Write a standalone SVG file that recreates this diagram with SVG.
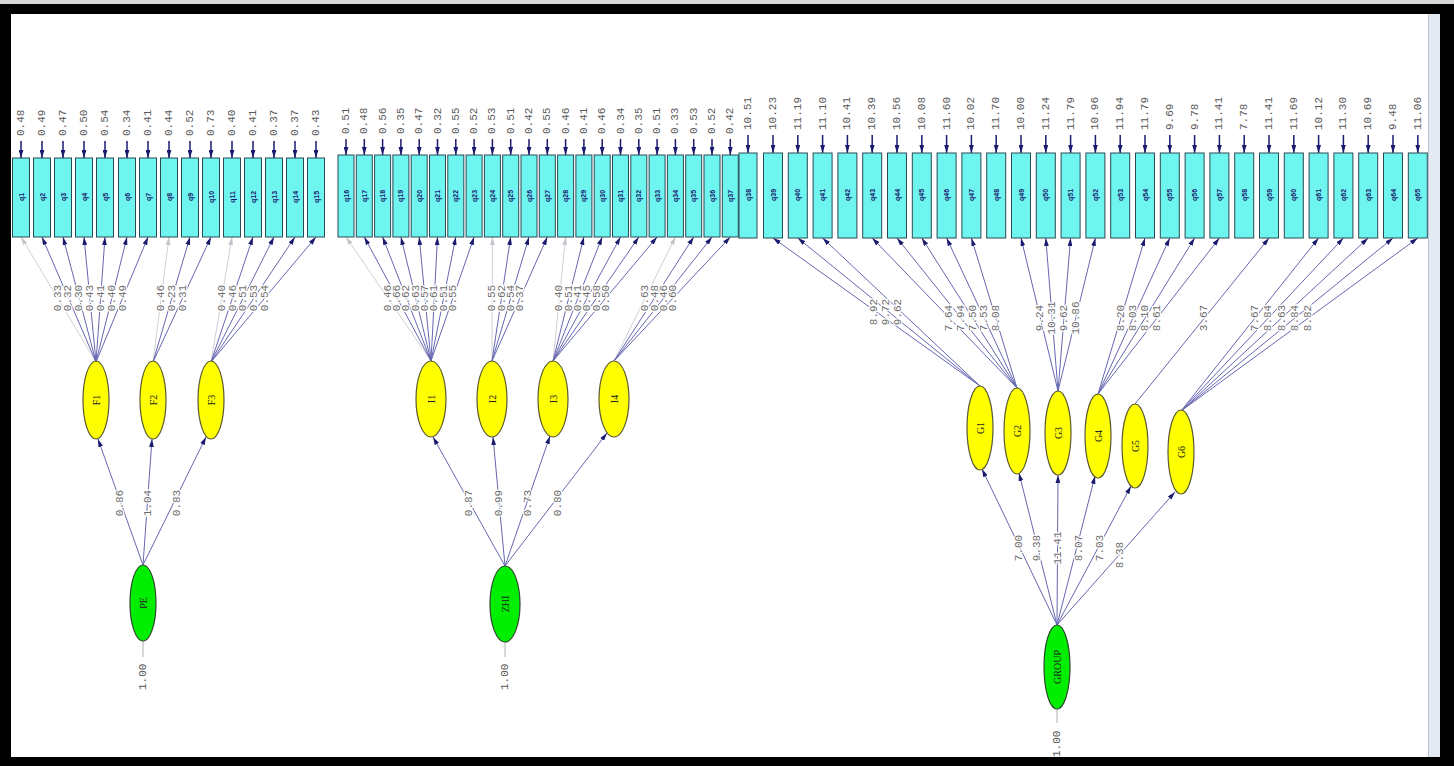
<svg xmlns="http://www.w3.org/2000/svg" width="1454" height="766" viewBox="0 0 1454 766">
<style>
.box{fill:#6ff5ef;stroke:#2c4a55;stroke-width:1}
.bl{font-family:"Liberation Sans","DejaVu Sans",sans-serif;font-size:7px;font-weight:bold;fill:#1a1a70;text-anchor:middle;dominant-baseline:central}
.el{font-family:"Liberation Mono","DejaVu Sans Mono",monospace;font-size:11px;fill:#5a5a5a;text-anchor:start;dominant-baseline:central}
.ld{font-family:"Liberation Mono","DejaVu Sans Mono",monospace;font-size:11px;fill:#6e6e6e;text-anchor:middle;dominant-baseline:central;stroke:#fff;stroke-width:2.5;paint-order:stroke}
.lat{fill:#ffff00;stroke:#5a5a30;stroke-width:1.2}
.ext{fill:#00ee00;stroke:#2a4a2a;stroke-width:1.2}
.nl{font-family:"Liberation Serif","DejaVu Serif",serif;font-size:10px;fill:#222;text-anchor:middle;dominant-baseline:central}
.ln{stroke:#6666b2;stroke-width:1;fill:none}
.fn{stroke:#cfcfd6;stroke-width:1;fill:none}
.er{stroke:#1a1a6e;stroke-width:1.5;fill:none}
.vl{stroke:#999;stroke-width:0.8;fill:none}
</style>
<defs>
<marker id="ah" viewBox="0 0 10 6" refX="10" refY="3" markerWidth="8" markerHeight="5" orient="auto" markerUnits="userSpaceOnUse"><path d="M0,0 L10,3 L0,6 z" fill="#1a1a6e"/></marker>
<marker id="af" viewBox="0 0 10 6" refX="10" refY="3" markerWidth="8" markerHeight="5" orient="auto" markerUnits="userSpaceOnUse"><path d="M0,0 L10,3 L0,6 z" fill="#c4c4cc"/></marker>
</defs>
<rect x="0" y="0" width="1454" height="766" fill="#000"/>
<rect x="0" y="0" width="1454" height="4" fill="#d8d8d8"/>
<rect x="11" y="14" width="1429" height="743" fill="#fff"/>
<rect x="1428" y="14" width="12" height="743" fill="#e4eaf2"/>
<line x1="1428.5" y1="14" x2="1428.5" y2="757" stroke="#b8c4d4" stroke-width="1"/>

<g id="connectors">
<g class="er" marker-end="url(#ah)">
<line x1="21" y1="141" x2="21" y2="158"/><line x1="42" y1="141" x2="42" y2="158"/><line x1="63" y1="141" x2="63" y2="158"/><line x1="84" y1="141" x2="84" y2="158"/><line x1="105" y1="141" x2="105" y2="158"/><line x1="127" y1="141" x2="127" y2="158"/><line x1="148" y1="141" x2="148" y2="158"/><line x1="169" y1="141" x2="169" y2="158"/><line x1="190" y1="141" x2="190" y2="158"/><line x1="211" y1="141" x2="211" y2="158"/><line x1="232" y1="141" x2="232" y2="158"/><line x1="253" y1="141" x2="253" y2="158"/><line x1="274" y1="141" x2="274" y2="158"/><line x1="295" y1="141" x2="295" y2="158"/><line x1="316" y1="141" x2="316" y2="158"/>
<line x1="346" y1="139" x2="346" y2="155"/><line x1="364.3" y1="139" x2="364.3" y2="155"/><line x1="382.6" y1="139" x2="382.6" y2="155"/><line x1="400.9" y1="139" x2="400.9" y2="155"/><line x1="419.2" y1="139" x2="419.2" y2="155"/><line x1="437.5" y1="139" x2="437.5" y2="155"/><line x1="455.8" y1="139" x2="455.8" y2="155"/><line x1="474.1" y1="139" x2="474.1" y2="155"/><line x1="492.4" y1="139" x2="492.4" y2="155"/><line x1="510.7" y1="139" x2="510.7" y2="155"/><line x1="529" y1="139" x2="529" y2="155"/><line x1="547.3" y1="139" x2="547.3" y2="155"/><line x1="565.6" y1="139" x2="565.6" y2="155"/><line x1="583.9" y1="139" x2="583.9" y2="155"/><line x1="602.2" y1="139" x2="602.2" y2="155"/><line x1="620.5" y1="139" x2="620.5" y2="155"/><line x1="638.8" y1="139" x2="638.8" y2="155"/><line x1="657.1" y1="139" x2="657.1" y2="155"/><line x1="675.4" y1="139" x2="675.4" y2="155"/><line x1="693.7" y1="139" x2="693.7" y2="155"/><line x1="712" y1="139" x2="712" y2="155"/><line x1="730.3" y1="139" x2="730.3" y2="155"/>
<line x1="748" y1="135" x2="748" y2="153"/><line x1="773" y1="135" x2="773" y2="153"/><line x1="797.8" y1="135" x2="797.8" y2="153"/><line x1="822.6" y1="135" x2="822.6" y2="153"/><line x1="847.4" y1="135" x2="847.4" y2="153"/><line x1="872.2" y1="135" x2="872.2" y2="153"/><line x1="897" y1="135" x2="897" y2="153"/><line x1="921.8" y1="135" x2="921.8" y2="153"/><line x1="946.6" y1="135" x2="946.6" y2="153"/><line x1="971.4" y1="135" x2="971.4" y2="153"/><line x1="996.2" y1="135" x2="996.2" y2="153"/><line x1="1021" y1="135" x2="1021" y2="153"/><line x1="1045.8" y1="135" x2="1045.8" y2="153"/><line x1="1070.6" y1="135" x2="1070.6" y2="153"/><line x1="1095.4" y1="135" x2="1095.4" y2="153"/><line x1="1120.2" y1="135" x2="1120.2" y2="153"/><line x1="1145" y1="135" x2="1145" y2="153"/><line x1="1169.8" y1="135" x2="1169.8" y2="153"/><line x1="1194.6" y1="135" x2="1194.6" y2="153"/><line x1="1219.4" y1="135" x2="1219.4" y2="153"/><line x1="1244.2" y1="135" x2="1244.2" y2="153"/><line x1="1269" y1="135" x2="1269" y2="153"/><line x1="1293.8" y1="135" x2="1293.8" y2="153"/><line x1="1318.6" y1="135" x2="1318.6" y2="153"/><line x1="1343.4" y1="135" x2="1343.4" y2="153"/><line x1="1368.2" y1="135" x2="1368.2" y2="153"/><line x1="1393" y1="135" x2="1393" y2="153"/><line x1="1417.8" y1="135" x2="1417.8" y2="153"/>
</g>
<g class="fn" marker-end="url(#af)">
<line x1="96" y1="362" x2="21" y2="237"/><line x1="153" y1="362" x2="169" y2="237"/><line x1="211" y1="362" x2="232" y2="237"/>
<line x1="431" y1="361" x2="346" y2="237"/><line x1="492" y1="361" x2="492.4" y2="237"/><line x1="553" y1="361" x2="565.6" y2="237"/><line x1="614" y1="361" x2="675.4" y2="237"/>
</g>
<g class="ln" marker-end="url(#ah)">
<line x1="96" y1="362" x2="42" y2="237"/><line x1="96" y1="362" x2="63" y2="237"/><line x1="96" y1="362" x2="84" y2="237"/><line x1="96" y1="362" x2="105" y2="237"/><line x1="96" y1="362" x2="127" y2="237"/><line x1="96" y1="362" x2="148" y2="237"/>
<line x1="153" y1="362" x2="190" y2="237"/><line x1="153" y1="362" x2="211" y2="237"/>
<line x1="211" y1="362" x2="253" y2="237"/><line x1="211" y1="362" x2="274" y2="237"/><line x1="211" y1="362" x2="295" y2="237"/><line x1="211" y1="362" x2="316" y2="237"/>
<line x1="431" y1="361" x2="364.3" y2="237"/><line x1="431" y1="361" x2="382.6" y2="237"/><line x1="431" y1="361" x2="400.9" y2="237"/><line x1="431" y1="361" x2="419.2" y2="237"/><line x1="431" y1="361" x2="437.5" y2="237"/><line x1="431" y1="361" x2="455.8" y2="237"/><line x1="431" y1="361" x2="474.1" y2="237"/>
<line x1="492" y1="361" x2="510.7" y2="237"/><line x1="492" y1="361" x2="529" y2="237"/><line x1="492" y1="361" x2="547.3" y2="237"/>
<line x1="553" y1="361" x2="583.9" y2="237"/><line x1="553" y1="361" x2="602.2" y2="237"/><line x1="553" y1="361" x2="620.5" y2="237"/><line x1="553" y1="361" x2="638.8" y2="237"/><line x1="553" y1="361" x2="657.1" y2="237"/>
<line x1="614" y1="361" x2="693.7" y2="237"/><line x1="614" y1="361" x2="712" y2="237"/><line x1="614" y1="361" x2="730.3" y2="237"/>
<line x1="980" y1="386" x2="773" y2="238"/><line x1="980" y1="386" x2="797.8" y2="238"/><line x1="980" y1="386" x2="822.6" y2="238"/>
<line x1="1017" y1="388" x2="872.2" y2="238"/><line x1="1017" y1="388" x2="897" y2="238"/><line x1="1017" y1="388" x2="921.8" y2="238"/><line x1="1017" y1="388" x2="946.6" y2="238"/><line x1="1017" y1="388" x2="971.4" y2="238"/>
<line x1="1058" y1="391" x2="1021" y2="238"/><line x1="1058" y1="391" x2="1045.8" y2="238"/><line x1="1058" y1="391" x2="1070.6" y2="238"/><line x1="1058" y1="391" x2="1095.4" y2="238"/>
<line x1="1098" y1="394" x2="1145" y2="238"/><line x1="1098" y1="394" x2="1169.8" y2="238"/><line x1="1098" y1="394" x2="1194.6" y2="238"/><line x1="1098" y1="394" x2="1219.4" y2="238"/>
<line x1="1135" y1="404" x2="1269" y2="238"/>
<line x1="1181" y1="411" x2="1318.6" y2="238"/><line x1="1181" y1="411" x2="1343.4" y2="238"/><line x1="1181" y1="411" x2="1368.2" y2="238"/><line x1="1181" y1="411" x2="1393" y2="238"/><line x1="1181" y1="411" x2="1417.8" y2="238"/>
<line x1="143" y1="565" x2="98" y2="439"/><line x1="143" y1="565" x2="152" y2="439"/><line x1="143" y1="565" x2="206" y2="437"/>
<line x1="505" y1="566" x2="433" y2="437"/><line x1="505" y1="566" x2="493" y2="437"/><line x1="505" y1="566" x2="550" y2="436"/><line x1="505" y1="566" x2="607" y2="433"/>
<line x1="1057" y1="625" x2="982" y2="469"/><line x1="1057" y1="625" x2="1019" y2="473"/><line x1="1057" y1="625" x2="1058" y2="475"/><line x1="1057" y1="625" x2="1095" y2="476"/><line x1="1057" y1="625" x2="1131" y2="486"/><line x1="1057" y1="625" x2="1175" y2="492"/>
</g>
<g class="vl"><line x1="143" y1="641" x2="143" y2="657"/><line x1="505" y1="642" x2="505" y2="657"/><line x1="1057" y1="709" x2="1057" y2="723"/></g>
</g>

<g id="indicators">
<g class="box">
<rect x="12.5" y="158" width="17" height="79"/><rect x="33.5" y="158" width="17" height="79"/><rect x="54.5" y="158" width="17" height="79"/><rect x="75.5" y="158" width="17" height="79"/><rect x="96.5" y="158" width="17" height="79"/><rect x="118.5" y="158" width="17" height="79"/><rect x="139.5" y="158" width="17" height="79"/><rect x="160.5" y="158" width="17" height="79"/><rect x="181.5" y="158" width="17" height="79"/><rect x="202.5" y="158" width="17" height="79"/><rect x="223.5" y="158" width="17" height="79"/><rect x="244.5" y="158" width="17" height="79"/><rect x="265.5" y="158" width="17" height="79"/><rect x="286.5" y="158" width="17" height="79"/><rect x="307.5" y="158" width="17" height="79"/>
<rect x="338" y="155" width="16" height="82"/><rect x="356.3" y="155" width="16" height="82"/><rect x="374.6" y="155" width="16" height="82"/><rect x="392.9" y="155" width="16" height="82"/><rect x="411.2" y="155" width="16" height="82"/><rect x="429.5" y="155" width="16" height="82"/><rect x="447.8" y="155" width="16" height="82"/><rect x="466.1" y="155" width="16" height="82"/><rect x="484.4" y="155" width="16" height="82"/><rect x="502.7" y="155" width="16" height="82"/><rect x="521" y="155" width="16" height="82"/><rect x="539.3" y="155" width="16" height="82"/><rect x="557.6" y="155" width="16" height="82"/><rect x="575.9" y="155" width="16" height="82"/><rect x="594.2" y="155" width="16" height="82"/><rect x="612.5" y="155" width="16" height="82"/><rect x="630.8" y="155" width="16" height="82"/><rect x="649.1" y="155" width="16" height="82"/><rect x="667.4" y="155" width="16" height="82"/><rect x="685.7" y="155" width="16" height="82"/><rect x="704" y="155" width="16" height="82"/><rect x="722.3" y="155" width="16" height="82"/>
<rect x="739" y="153" width="18" height="85"/><rect x="763.5" y="153" width="19" height="85"/><rect x="788.3" y="153" width="19" height="85"/><rect x="813.1" y="153" width="19" height="85"/><rect x="837.9" y="153" width="19" height="85"/><rect x="862.7" y="153" width="19" height="85"/><rect x="887.5" y="153" width="19" height="85"/><rect x="912.3" y="153" width="19" height="85"/><rect x="937.1" y="153" width="19" height="85"/><rect x="961.9" y="153" width="19" height="85"/><rect x="986.7" y="153" width="19" height="85"/><rect x="1011.5" y="153" width="19" height="85"/><rect x="1036.3" y="153" width="19" height="85"/><rect x="1061.1" y="153" width="19" height="85"/><rect x="1085.9" y="153" width="19" height="85"/><rect x="1110.7" y="153" width="19" height="85"/><rect x="1135.5" y="153" width="19" height="85"/><rect x="1160.3" y="153" width="19" height="85"/><rect x="1185.1" y="153" width="19" height="85"/><rect x="1209.9" y="153" width="19" height="85"/><rect x="1234.7" y="153" width="19" height="85"/><rect x="1259.5" y="153" width="19" height="85"/><rect x="1284.3" y="153" width="19" height="85"/><rect x="1309.1" y="153" width="19" height="85"/><rect x="1333.9" y="153" width="19" height="85"/><rect x="1358.7" y="153" width="19" height="85"/><rect x="1383.5" y="153" width="19" height="85"/><rect x="1408.3" y="153" width="19" height="85"/>
</g>
<g class="bl">
<text transform="translate(21,197) rotate(-90)">q1</text><text transform="translate(42,197) rotate(-90)">q2</text><text transform="translate(63,197) rotate(-90)">q3</text><text transform="translate(84,197) rotate(-90)">q4</text><text transform="translate(105,197) rotate(-90)">q5</text><text transform="translate(127,197) rotate(-90)">q6</text><text transform="translate(148,197) rotate(-90)">q7</text><text transform="translate(169,197) rotate(-90)">q8</text><text transform="translate(190,197) rotate(-90)">q9</text><text transform="translate(211,197) rotate(-90)">q10</text><text transform="translate(232,197) rotate(-90)">q11</text><text transform="translate(253,197) rotate(-90)">q12</text><text transform="translate(274,197) rotate(-90)">q13</text><text transform="translate(295,197) rotate(-90)">q14</text><text transform="translate(316,197) rotate(-90)">q15</text>
<text transform="translate(346,196) rotate(-90)">q16</text><text transform="translate(364.3,196) rotate(-90)">q17</text><text transform="translate(382.6,196) rotate(-90)">q18</text><text transform="translate(400.9,196) rotate(-90)">q19</text><text transform="translate(419.2,196) rotate(-90)">q20</text><text transform="translate(437.5,196) rotate(-90)">q21</text><text transform="translate(455.8,196) rotate(-90)">q22</text><text transform="translate(474.1,196) rotate(-90)">q23</text><text transform="translate(492.4,196) rotate(-90)">q24</text><text transform="translate(510.7,196) rotate(-90)">q25</text><text transform="translate(529,196) rotate(-90)">q26</text><text transform="translate(547.3,196) rotate(-90)">q27</text><text transform="translate(565.6,196) rotate(-90)">q28</text><text transform="translate(583.9,196) rotate(-90)">q29</text><text transform="translate(602.2,196) rotate(-90)">q30</text><text transform="translate(620.5,196) rotate(-90)">q31</text><text transform="translate(638.8,196) rotate(-90)">q32</text><text transform="translate(657.1,196) rotate(-90)">q33</text><text transform="translate(675.4,196) rotate(-90)">q34</text><text transform="translate(693.7,196) rotate(-90)">q35</text><text transform="translate(712,196) rotate(-90)">q36</text><text transform="translate(730.3,196) rotate(-90)">q37</text>
<text transform="translate(748,195) rotate(-90)">q38</text><text transform="translate(773,195) rotate(-90)">q39</text><text transform="translate(797.8,195) rotate(-90)">q40</text><text transform="translate(822.6,195) rotate(-90)">q41</text><text transform="translate(847.4,195) rotate(-90)">q42</text><text transform="translate(872.2,195) rotate(-90)">q43</text><text transform="translate(897,195) rotate(-90)">q44</text><text transform="translate(921.8,195) rotate(-90)">q45</text><text transform="translate(946.6,195) rotate(-90)">q46</text><text transform="translate(971.4,195) rotate(-90)">q47</text><text transform="translate(996.2,195) rotate(-90)">q48</text><text transform="translate(1021,195) rotate(-90)">q49</text><text transform="translate(1045.8,195) rotate(-90)">q50</text><text transform="translate(1070.6,195) rotate(-90)">q51</text><text transform="translate(1095.4,195) rotate(-90)">q52</text><text transform="translate(1120.2,195) rotate(-90)">q53</text><text transform="translate(1145,195) rotate(-90)">q54</text><text transform="translate(1169.8,195) rotate(-90)">q55</text><text transform="translate(1194.6,195) rotate(-90)">q56</text><text transform="translate(1219.4,195) rotate(-90)">q57</text><text transform="translate(1244.2,195) rotate(-90)">q58</text><text transform="translate(1269,195) rotate(-90)">q59</text><text transform="translate(1293.8,195) rotate(-90)">q60</text><text transform="translate(1318.6,195) rotate(-90)">q61</text><text transform="translate(1343.4,195) rotate(-90)">q62</text><text transform="translate(1368.2,195) rotate(-90)">q63</text><text transform="translate(1393,195) rotate(-90)">q64</text><text transform="translate(1417.8,195) rotate(-90)">q65</text>
</g>
<g class="el">
<text transform="translate(21,136) rotate(-90)">0.48</text><text transform="translate(42,136) rotate(-90)">0.49</text><text transform="translate(63,136) rotate(-90)">0.47</text><text transform="translate(84,136) rotate(-90)">0.50</text><text transform="translate(105,136) rotate(-90)">0.54</text><text transform="translate(127,136) rotate(-90)">0.34</text><text transform="translate(148,136) rotate(-90)">0.41</text><text transform="translate(169,136) rotate(-90)">0.44</text><text transform="translate(190,136) rotate(-90)">0.52</text><text transform="translate(211,136) rotate(-90)">0.73</text><text transform="translate(232,136) rotate(-90)">0.40</text><text transform="translate(253,136) rotate(-90)">0.41</text><text transform="translate(274,136) rotate(-90)">0.37</text><text transform="translate(295,136) rotate(-90)">0.37</text><text transform="translate(316,136) rotate(-90)">0.43</text>
<text transform="translate(346,134) rotate(-90)">0.51</text><text transform="translate(364.3,134) rotate(-90)">0.48</text><text transform="translate(382.6,134) rotate(-90)">0.56</text><text transform="translate(400.9,134) rotate(-90)">0.35</text><text transform="translate(419.2,134) rotate(-90)">0.47</text><text transform="translate(437.5,134) rotate(-90)">0.32</text><text transform="translate(455.8,134) rotate(-90)">0.55</text><text transform="translate(474.1,134) rotate(-90)">0.52</text><text transform="translate(492.4,134) rotate(-90)">0.53</text><text transform="translate(510.7,134) rotate(-90)">0.51</text><text transform="translate(529,134) rotate(-90)">0.42</text><text transform="translate(547.3,134) rotate(-90)">0.55</text><text transform="translate(565.6,134) rotate(-90)">0.46</text><text transform="translate(583.9,134) rotate(-90)">0.41</text><text transform="translate(602.2,134) rotate(-90)">0.46</text><text transform="translate(620.5,134) rotate(-90)">0.34</text><text transform="translate(638.8,134) rotate(-90)">0.35</text><text transform="translate(657.1,134) rotate(-90)">0.51</text><text transform="translate(675.4,134) rotate(-90)">0.33</text><text transform="translate(693.7,134) rotate(-90)">0.53</text><text transform="translate(712,134) rotate(-90)">0.52</text><text transform="translate(730.3,134) rotate(-90)">0.42</text>
<text transform="translate(748,130) rotate(-90)">10.51</text><text transform="translate(773,130) rotate(-90)">10.23</text><text transform="translate(797.8,130) rotate(-90)">11.19</text><text transform="translate(822.6,130) rotate(-90)">11.10</text><text transform="translate(847.4,130) rotate(-90)">10.41</text><text transform="translate(872.2,130) rotate(-90)">10.39</text><text transform="translate(897,130) rotate(-90)">10.56</text><text transform="translate(921.8,130) rotate(-90)">10.08</text><text transform="translate(946.6,130) rotate(-90)">11.60</text><text transform="translate(971.4,130) rotate(-90)">10.02</text><text transform="translate(996.2,130) rotate(-90)">11.70</text><text transform="translate(1021,130) rotate(-90)">10.00</text><text transform="translate(1045.8,130) rotate(-90)">11.24</text><text transform="translate(1070.6,130) rotate(-90)">11.79</text><text transform="translate(1095.4,130) rotate(-90)">10.96</text><text transform="translate(1120.2,130) rotate(-90)">11.94</text><text transform="translate(1145,130) rotate(-90)">11.79</text><text transform="translate(1169.8,130) rotate(-90)">9.69</text><text transform="translate(1194.6,130) rotate(-90)">9.78</text><text transform="translate(1219.4,130) rotate(-90)">11.41</text><text transform="translate(1244.2,130) rotate(-90)">7.78</text><text transform="translate(1269,130) rotate(-90)">11.41</text><text transform="translate(1293.8,130) rotate(-90)">11.69</text><text transform="translate(1318.6,130) rotate(-90)">10.12</text><text transform="translate(1343.4,130) rotate(-90)">11.30</text><text transform="translate(1368.2,130) rotate(-90)">10.69</text><text transform="translate(1393,130) rotate(-90)">9.48</text><text transform="translate(1417.8,130) rotate(-90)">11.06</text>
</g>
</g>

<g id="loading-labels" class="ld">
<text transform="translate(57.6,298) rotate(-90)">0.33</text><text transform="translate(68.4,298) rotate(-90)">0.32</text><text transform="translate(79.1,298) rotate(-90)">0.30</text><text transform="translate(89.9,298) rotate(-90)">0.43</text><text transform="translate(100.6,298) rotate(-90)">0.41</text><text transform="translate(111.9,298) rotate(-90)">0.40</text><text transform="translate(122.6,298) rotate(-90)">0.49</text>
<text transform="translate(161.2,298) rotate(-90)">0.46</text><text transform="translate(171.9,298) rotate(-90)">0.23</text><text transform="translate(182.7,298) rotate(-90)">0.31</text>
<text transform="translate(221.8,298) rotate(-90)">0.40</text><text transform="translate(232.5,298) rotate(-90)">0.46</text><text transform="translate(243.3,298) rotate(-90)">0.51</text><text transform="translate(254,298) rotate(-90)">0.53</text><text transform="translate(264.8,298) rotate(-90)">0.54</text>
<text transform="translate(387.8,298) rotate(-90)">0.46</text><text transform="translate(397.1,298) rotate(-90)">0.66</text><text transform="translate(406.4,298) rotate(-90)">0.62</text><text transform="translate(415.7,298) rotate(-90)">0.63</text><text transform="translate(425,298) rotate(-90)">0.57</text><text transform="translate(434.3,298) rotate(-90)">0.61</text><text transform="translate(443.6,298) rotate(-90)">0.51</text><text transform="translate(452.9,298) rotate(-90)">0.55</text>
<text transform="translate(492.2,298) rotate(-90)">0.55</text><text transform="translate(501.5,298) rotate(-90)">0.62</text><text transform="translate(510.8,298) rotate(-90)">0.54</text><text transform="translate(520.1,298) rotate(-90)">0.37</text>
<text transform="translate(559.4,298) rotate(-90)">0.40</text><text transform="translate(568.7,298) rotate(-90)">0.51</text><text transform="translate(578,298) rotate(-90)">0.41</text><text transform="translate(587.3,298) rotate(-90)">0.45</text><text transform="translate(596.6,298) rotate(-90)">0.58</text><text transform="translate(605.9,298) rotate(-90)">0.50</text>
<text transform="translate(645.2,298) rotate(-90)">0.63</text><text transform="translate(654.5,298) rotate(-90)">0.48</text><text transform="translate(663.8,298) rotate(-90)">0.46</text><text transform="translate(673.1,298) rotate(-90)">0.60</text>
<text transform="translate(874,312) rotate(-90)">8.92</text><text transform="translate(886,312) rotate(-90)">9.72</text><text transform="translate(898,312) rotate(-90)">9.62</text>
<text transform="translate(949.4,318) rotate(-90)">7.64</text><text transform="translate(961,318) rotate(-90)">7.94</text><text transform="translate(972.6,318) rotate(-90)">7.50</text><text transform="translate(984.1,318) rotate(-90)">7.53</text><text transform="translate(995.7,318) rotate(-90)">8.08</text>
<text transform="translate(1040.3,318) rotate(-90)">9.24</text><text transform="translate(1052.2,318) rotate(-90)">10.31</text><text transform="translate(1064,318) rotate(-90)">9.62</text><text transform="translate(1075.8,318) rotate(-90)">10.86</text>
<text transform="translate(1120.9,318) rotate(-90)">8.20</text><text transform="translate(1133,318) rotate(-90)">8.03</text><text transform="translate(1145,318) rotate(-90)">8.10</text><text transform="translate(1157.1,318) rotate(-90)">8.61</text>
<text transform="translate(1204.4,318) rotate(-90)">3.67</text>
<text transform="translate(1255,318) rotate(-90)">7.67</text><text transform="translate(1268.3,318) rotate(-90)">8.84</text><text transform="translate(1281.6,318) rotate(-90)">8.63</text><text transform="translate(1295,318) rotate(-90)">8.84</text><text transform="translate(1308.3,318) rotate(-90)">8.82</text>
<text transform="translate(120,503) rotate(-90)">0.86</text><text transform="translate(148,503) rotate(-90)">1.04</text><text transform="translate(176.5,503) rotate(-90)">0.83</text>
<text transform="translate(469,503) rotate(-90)">0.87</text><text transform="translate(498.7,503) rotate(-90)">0.99</text><text transform="translate(528.4,503) rotate(-90)">0.73</text><text transform="translate(558.2,503) rotate(-90)">0.80</text>
<text transform="translate(1018.7,548) rotate(-90)">7.00</text><text transform="translate(1036.6,548) rotate(-90)">9.38</text><text transform="translate(1057.5,548) rotate(-90)">11.41</text><text transform="translate(1078.5,548) rotate(-90)">8.07</text><text transform="translate(1099.7,548) rotate(-90)">7.03</text><text transform="translate(1119.6,555) rotate(-90)">8.38</text>
</g>

<g id="F1"><ellipse class="lat" cx="96" cy="400" rx="13" ry="39"/><text class="nl" transform="translate(96,400) rotate(-90)">F1</text></g>
<g id="F2"><ellipse class="lat" cx="153" cy="400" rx="13" ry="39"/><text class="nl" transform="translate(153,400) rotate(-90)">F2</text></g>
<g id="F3"><ellipse class="lat" cx="211" cy="400" rx="13" ry="39"/><text class="nl" transform="translate(211,400) rotate(-90)">F3</text></g>
<g id="I1"><ellipse class="lat" cx="431" cy="399" rx="15" ry="38"/><text class="nl" transform="translate(431,399) rotate(-90)">I1</text></g>
<g id="I2"><ellipse class="lat" cx="492" cy="399" rx="15" ry="38"/><text class="nl" transform="translate(492,399) rotate(-90)">I2</text></g>
<g id="I3"><ellipse class="lat" cx="553" cy="399" rx="15" ry="38"/><text class="nl" transform="translate(553,399) rotate(-90)">I3</text></g>
<g id="I4"><ellipse class="lat" cx="614" cy="399" rx="15" ry="38"/><text class="nl" transform="translate(614,399) rotate(-90)">I4</text></g>
<g id="G1"><ellipse class="lat" cx="980" cy="428" rx="13" ry="42"/><text class="nl" transform="translate(980,428) rotate(-90)">G1</text></g>
<g id="G2"><ellipse class="lat" cx="1017" cy="431" rx="13" ry="43"/><text class="nl" transform="translate(1017,431) rotate(-90)">G2</text></g>
<g id="G3"><ellipse class="lat" cx="1058" cy="433" rx="13" ry="42"/><text class="nl" transform="translate(1058,433) rotate(-90)">G3</text></g>
<g id="G4"><ellipse class="lat" cx="1098" cy="436" rx="13" ry="42"/><text class="nl" transform="translate(1098,436) rotate(-90)">G4</text></g>
<g id="G5"><ellipse class="lat" cx="1135" cy="446" rx="13" ry="42"/><text class="nl" transform="translate(1135,446) rotate(-90)">G5</text></g>
<g id="G6"><ellipse class="lat" cx="1181" cy="452" rx="13" ry="42"/><text class="nl" transform="translate(1181,452) rotate(-90)">G6</text></g>
<g id="PE"><ellipse class="ext" cx="143" cy="603" rx="13" ry="38"/><text class="nl" transform="translate(143,603) rotate(-90)">PE</text><text class="el" transform="translate(143,690) rotate(-90)">1.00</text></g>
<g id="ZHI"><ellipse class="ext" cx="505" cy="604" rx="15" ry="38"/><text class="nl" transform="translate(505,604) rotate(-90)">ZHI</text><text class="el" transform="translate(505,690) rotate(-90)">1.00</text></g>
<g id="GROUP"><ellipse class="ext" cx="1057" cy="667" rx="13" ry="42"/><text class="nl" transform="translate(1057,667) rotate(-90)">GROUP</text><text class="el" transform="translate(1057,757) rotate(-90)">1.00</text></g>
</svg>
